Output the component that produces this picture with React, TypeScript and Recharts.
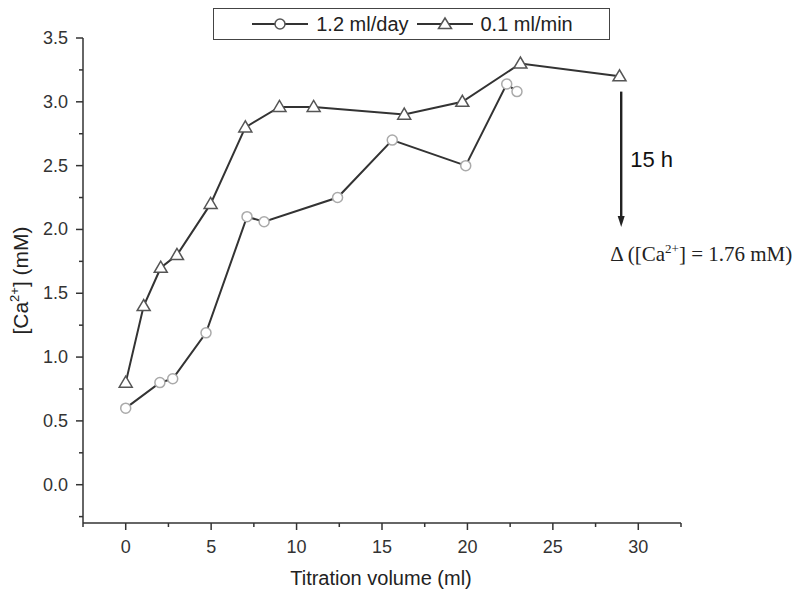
import React from 'react';
import { LineChart, Line, XAxis, YAxis, Legend, ReferenceLine } from 'recharts';

const slowX = [0, 2.0, 2.75, 4.7, 7.1, 8.1, 12.4, 15.6, 19.9, 22.3, 22.9];
const slowY = [0.6, 0.8, 0.83, 1.19, 2.1, 2.06, 2.25, 2.7, 2.5, 3.14, 3.08];
const fastX = [0, 1.05, 2.05, 3.0, 4.97, 7.0, 9.0, 11.0, 16.3, 19.7, 23.1, 28.9];
const fastY = [0.8, 1.4, 1.7, 1.8, 2.2, 2.8, 2.96, 2.96, 2.9, 3.0, 3.3, 3.2];

const seriesNames = ['1.2 ml/day', '0.1 ml/min'];
const xTicks = [-2.5, 0, 2.5, 5, 7.5, 10, 12.5, 15, 17.5, 20, 22.5, 25, 27.5, 30, 32.5];
const yTicks = [-0.25, 0, 0.25, 0.5, 0.75, 1, 1.25, 1.5, 1.75, 2, 2.25, 2.5, 2.75, 3, 3.25, 3.5];
const arrowX = 29;
const arrowFrom = 3.08;
const arrowTo = 2.02;
const arrowLabel = '15 h';
const deltaLabel = ['Δ ([Ca', '2+', '] = 1.76 mM)'];

const slowData = slowX.map((x, i) => ({ x, y: slowY[i] }));
const fastData = fastX.map((x, i) => ({ x, y: fastY[i] }));

const AX = '#333';
const FONT = 'Liberation Sans, Arial, sans-serif';

const isMajor = (v: number, step: number) => Math.abs(v / step - Math.round(v / step)) < 1e-6;

const XTick = (props: any) => {
  const { x, y, payload } = props;
  const v = payload.value;
  const major = isMajor(v, 5) && v >= 0 && v <= 30;
  return (
    <g>
      <line x1={x} x2={x} y1={y} y2={y + (major ? 7 : 4)} stroke={AX} strokeWidth={1.5} />
      {major && (
        <text x={x} y={y + 30} textAnchor="middle" fontSize={18} fill="#333" fontFamily={FONT}>
          {v}
        </text>
      )}
    </g>
  );
};

const YTick = (props: any) => {
  const { x, y, payload } = props;
  const v = payload.value;
  const major = isMajor(v, 0.5);
  return (
    <g>
      <line x1={x} x2={x - (major ? 7 : 4)} y1={y} y2={y} stroke={AX} strokeWidth={1.5} />
      {major && (
        <text x={x - 15} y={y + 6} textAnchor="end" fontSize={18} fill="#333" fontFamily={FONT}>
          {v.toFixed(1)}
        </text>
      )}
    </g>
  );
};

const CircleDot = (props: any) => {
  const { cx, cy, index } = props;
  return <circle key={`c${index}`} cx={cx} cy={cy} r={5} fill="#fff" stroke="#aaa" strokeWidth={1.5} />;
};

const TriDot = (props: any) => {
  const { cx, cy, index } = props;
  const s = 6.5;
  return (
    <polygon
      key={`t${index}`}
      points={`${cx},${cy - s} ${cx - s},${cy + s * 0.7} ${cx + s},${cy + s * 0.7}`}
      fill="#fff"
      stroke="#555"
      strokeWidth={1.5}
    />
  );
};

const ArrowShape = (props: any) => {
  const { x1, y1, x2, y2 } = props;
  if (x1 == null) return null;
  const top = Math.min(y1, y2);
  const bot = Math.max(y1, y2);
  return (
    <g>
      <line x1={x1} x2={x1} y1={top} y2={bot - 8} stroke="#222" strokeWidth={2.4} />
      <polygon points={`${x1 - 3.5},${bot - 11} ${x1 + 3.5},${bot - 11} ${x1},${bot}`} fill="#222" />
      <text x={x1 + 9} y={(top + bot) / 2 + 8} fontSize={22} fill="#111" fontFamily={FONT}>
        {arrowLabel}
      </text>
      <text x={x1 - 11} y={bot + 34} fontSize={21} fill="#222" fontFamily="Liberation Serif, Times New Roman, serif">
        {deltaLabel[0]}
        <tspan dy={-8} fontSize={13}>{deltaLabel[1]}</tspan>
        <tspan dy={8}>{deltaLabel[2]}</tspan>
      </text>
    </g>
  );
};

const LegendIcon = ({ kind }: { kind: string }) => (
  <svg width={60} height={20} style={{ display: 'block' }}>
    <line x1={2} x2={58} y1={10} y2={10} stroke="#333" strokeWidth={1.8} />
    {kind === 'circle' ? (
      <circle cx={30} cy={10} r={5} fill="#fff" stroke="#555" strokeWidth={1.5} />
    ) : (
      <polygon points="30,4 23.5,14.5 36.5,14.5" fill="#fff" stroke="#555" strokeWidth={1.5} />
    )}
  </svg>
);

const LegendBox = () => (
  <div
    style={{
      boxSizing: 'border-box',
      width: 397,
      height: 32,
      border: '1.5px solid #444',
      display: 'flex',
      alignItems: 'center',
      justifyContent: 'center',
      gap: 6,
      fontFamily: FONT,
      fontSize: 20,
      color: '#222',
      background: '#fff',
    }}
  >
    <LegendIcon kind="circle" />
    <span>{seriesNames[0]}</span>
    <LegendIcon kind="tri" />
    <span>{seriesNames[1]}</span>
  </div>
);

const YLabel = (props: any) => {
  const vb = props.viewBox || {};
  const cx = (vb.x ?? 23) + 5;
  const cy = (vb.y ?? 38) + (vb.height ?? 485) / 2;
  return (
    <text
      x={cx}
      y={cy}
      transform={`rotate(-90, ${cx}, ${cy})`}
      textAnchor="middle"
      fontSize={21}
      fill="#222"
      fontFamily={FONT}
    >
      [Ca<tspan dy={-9} fontSize={13}>2+</tspan>
      <tspan dy={9}>] (mM)</tspan>
    </text>
  );
};

const XLabel = (props: any) => {
  const vb = props.viewBox || {};
  const cx = (vb.x ?? 83) + (vb.width ?? 598) / 2 - 1;
  const cy = (vb.y ?? 523) + 62;
  return (
    <text x={cx} y={cy} textAnchor="middle" fontSize={20} fill="#222" fontFamily={FONT}>
      Titration volume (ml)
    </text>
  );
};

export default function App() {
  return (
    <div style={{ position: 'absolute', left: 0, top: 0, width: 800, height: 600, background: '#fff' }}>
      <LineChart width={800} height={600} margin={{ top: 38, right: 119, left: 23, bottom: 37 }}>
        <XAxis
          type="number"
          dataKey="x"
          domain={[-2.5, 32.5]}
          ticks={xTicks}
          interval={0}
          allowDataOverflow
          tickSize={0}
          tickMargin={0}
          tickLine={false}
          tick={<XTick />}
          height={40}
          axisLine={{ stroke: AX, strokeWidth: 1.5 }}
          label={<XLabel />}
        />
        <YAxis
          type="number"
          dataKey="y"
          domain={[-0.3, 3.5]}
          ticks={yTicks}
          interval={0}
          allowDataOverflow
          tickSize={0}
          tickMargin={0}
          tickLine={false}
          tick={<YTick />}
          width={60}
          axisLine={{ stroke: AX, strokeWidth: 1.5 }}
          label={<YLabel />}
        />
        <Legend
          layout="horizontal"
          verticalAlign="middle"
          align="center"
          wrapperStyle={{ position: 'absolute', top: 8, left: 213, width: 397, height: 32 }}
          content={() => <LegendBox />}
        />
        <Line
          data={slowData}
          dataKey="y"
          name={seriesNames[0]}
          stroke="#333"
          strokeWidth={2}
          dot={CircleDot}
          activeDot={false}
          isAnimationActive={false}
        />
        <Line
          data={fastData}
          dataKey="y"
          name={seriesNames[1]}
          stroke="#333"
          strokeWidth={2}
          dot={TriDot}
          activeDot={false}
          isAnimationActive={false}
        />
        <ReferenceLine
          segment={[
            { x: arrowX, y: arrowFrom },
            { x: arrowX, y: arrowTo },
          ]}
          ifOverflow="visible"
          shape={ArrowShape}
        />
      </LineChart>
    </div>
  );
}
